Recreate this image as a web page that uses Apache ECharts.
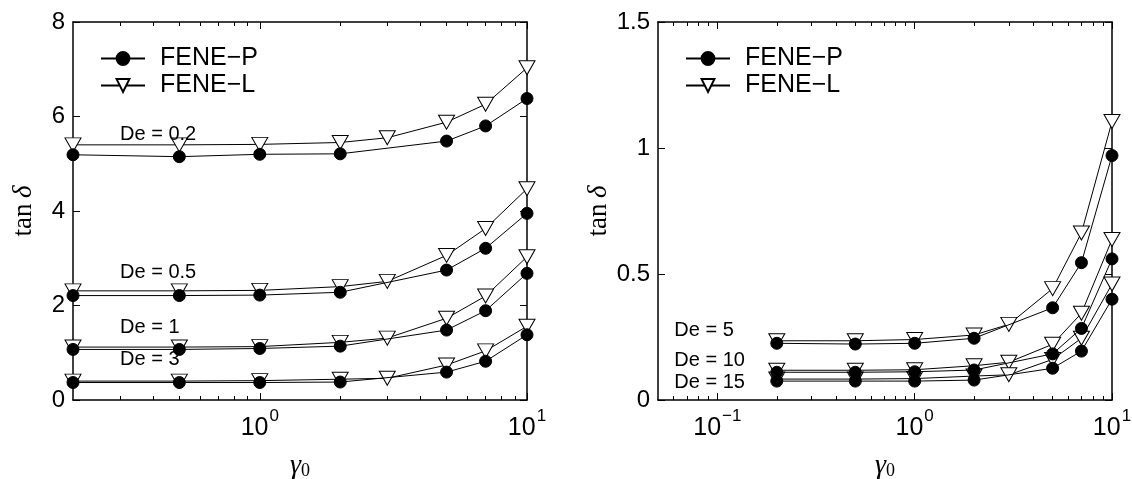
<!DOCTYPE html>
<html>
<head>
<meta charset="utf-8">
<script src="https://cdn.jsdelivr.net/npm/echarts@6/dist/echarts.min.js"></script>
<style>
  html, body { margin: 0; padding: 0; background: #fff; }
  #chart { width: 1132px; height: 479px; }
</style>
</head>
<body>
<div id="chart"></div>
<script>
// Strain amplitudes γ0 sampled for each model
const gammaP = [0.2, 0.5, 1, 2, 5, 7, 10];
const gammaL = [0.2, 0.5, 1, 2, 3, 5, 7, 10];

// Left panel: loss tangent at low Deborah numbers
const deLeft = ['De = 0.2', 'De = 0.5', 'De = 1', 'De = 3'];
const feneP_left = [
  [5.19, 5.15, 5.20, 5.21, 5.48, 5.80, 6.38],
  [2.21, 2.21, 2.22, 2.28, 2.75, 3.21, 3.95],
  [1.07, 1.07, 1.09, 1.14, 1.48, 1.89, 2.68],
  [0.37, 0.37, 0.37, 0.38, 0.59, 0.82, 1.38]
];
const feneL_left = [
  [5.40, 5.40, 5.41, 5.45, 5.55, 5.88, 6.26, 7.03],
  [2.31, 2.31, 2.32, 2.40, 2.51, 3.06, 3.63, 4.47],
  [1.12, 1.12, 1.13, 1.22, 1.31, 1.73, 2.20, 3.03],
  [0.40, 0.40, 0.41, 0.44, 0.46, 0.74, 1.04, 1.56]
];

// Right panel: loss tangent at high Deborah numbers
const deRight = ['De = 5', 'De = 10', 'De = 15'];
const feneP_right = [
  [0.225, 0.222, 0.225, 0.245, 0.366, 0.545, 0.970],
  [0.110, 0.110, 0.112, 0.119, 0.183, 0.284, 0.560],
  [0.075, 0.075, 0.075, 0.079, 0.126, 0.194, 0.400]
];
const feneL_right = [
  [0.235, 0.235, 0.240, 0.258, 0.300, 0.442, 0.663, 1.105],
  [0.118, 0.118, 0.120, 0.136, 0.150, 0.221, 0.344, 0.637],
  [0.083, 0.083, 0.085, 0.095, 0.100, 0.161, 0.245, 0.460]
];

// Axis ranges and ticks
const xRangeLeft = [0.2, 10];
const xRangeRight = [0.05, 10];
const xMajorLeft = [1, 10];
const xMinorLeft = [0.3, 0.4, 0.5, 0.6, 0.7, 0.8, 0.9, 2, 3, 4, 5, 6, 7, 8, 9];
const xMajorRight = [0.1, 1, 10];
const xMinorRight = [0.06, 0.07, 0.08, 0.09, 0.2, 0.3, 0.4, 0.5, 0.6, 0.7, 0.8, 0.9, 2, 3, 4, 5, 6, 7, 8, 9];
const yLeft = { min: 0, max: 8, interval: 2 };
const yRight = { min: 0, max: 1.5, interval: 0.5 };

// Where the Deborah-number notes sit, in data units
const deLeftAt = [[0.30, 5.62], [0.30, 2.70], [0.30, 1.53], [0.30, 0.85]];
const deRightAt = [[0.0605, 0.276], [0.0605, 0.155], [0.0605, 0.071]];

const SANS = 'Liberation Sans, Arial, sans-serif';
const SERIF = 'Liberation Serif, Times New Roman, serif';
const INK = '#000';

const grids = [
  { left: 73, top: 22, width: 454, height: 378, containLabel: false, outerBoundsMode: 'none' },
  { left: 658, top: 22, width: 454, height: 378, containLabel: false, outerBoundsMode: 'none' }
];

// Decade tick label: "10" with a raised exponent
function decadeLabel(v) {
  const e = Math.round(Math.log10(v));
  return '{b|10}{sup|' + (e < 0 ? '\u2212' + (-e) : e) + '}';
}

function xAxes(gridIndex, range, major, minor) {
  const base = {
    type: 'log', logBase: 10, gridIndex: gridIndex, min: range[0], max: range[1],
    splitLine: { show: false }, minorTick: { show: false }, minorSplitLine: { show: false }
  };
  return [
    Object.assign({}, base, {
      position: 'bottom',
      name: '{g|\u03b3}{s|0}', nameLocation: 'middle', nameGap: 52,
      nameTextStyle: {
        rich: {
          g: { fontFamily: SERIF, fontStyle: 'italic', fontSize: 28, lineHeight: 28, color: INK, verticalAlign: 'bottom' },
          s: { fontFamily: SERIF, fontSize: 18, lineHeight: 18, color: INK, verticalAlign: 'bottom' }
        }
      },
      axisLine: { show: true, lineStyle: { color: INK, width: 1.5 } },
      axisTick: { show: true, inside: true, length: 7, customValues: major, lineStyle: { color: INK, width: 1 } },
      axisLabel: {
        show: true, customValues: major, margin: 8, formatter: decadeLabel,
        rich: {
          b: { fontFamily: SANS, fontSize: 25, lineHeight: 25, color: INK, verticalAlign: 'bottom' },
          sup: { fontFamily: SANS, fontSize: 17, color: INK, verticalAlign: 'top', padding: [0, 0, 16, 1] }
        }
      }
    }),
    Object.assign({}, base, {
      position: 'bottom',
      axisLine: { show: false },
      axisTick: { show: true, inside: true, length: 4, customValues: minor, lineStyle: { color: INK, width: 1 } },
      axisLabel: { show: false }
    }),
    Object.assign({}, base, {
      position: 'top',
      axisLine: { show: true, lineStyle: { color: INK, width: 1.5 } },
      axisTick: { show: true, inside: true, length: 7, customValues: major, lineStyle: { color: INK, width: 1 } },
      axisLabel: { show: false }
    }),
    Object.assign({}, base, {
      position: 'top',
      axisLine: { show: false },
      axisTick: { show: true, inside: true, length: 4, customValues: minor, lineStyle: { color: INK, width: 1 } },
      axisLabel: { show: false }
    })
  ];
}

function yAxes(gridIndex, spec) {
  const base = {
    type: 'value', gridIndex: gridIndex, min: spec.min, max: spec.max, interval: spec.interval,
    splitLine: { show: false },
    axisLine: { show: true, lineStyle: { color: INK, width: 1.5 } },
    axisTick: { show: true, inside: true, length: 7, lineStyle: { color: INK, width: 1 } }
  };
  return [
    Object.assign({}, base, {
      position: 'left',
      name: '{r|tan\u2009}{i|\u03b4}', nameLocation: 'middle', nameGap: 36, nameRotate: 90,
      nameTextStyle: {
        rich: {
          r: { fontFamily: SERIF, fontSize: 27, color: INK },
          i: { fontFamily: SERIF, fontStyle: 'italic', fontSize: 27, color: INK }
        }
      },
      axisLabel: { show: true, margin: 8, fontFamily: SANS, fontSize: 24, color: INK }
    }),
    Object.assign({}, base, {
      position: 'right',
      axisLabel: { show: false }
    })
  ];
}

function curve(name, xs, ys, isP, xi, yi) {
  return {
    type: 'line', name: name, xAxisIndex: xi, yAxisIndex: yi,
    data: xs.map((x, i) => [x, ys[i]]),
    clip: false,
    symbol: isP ? 'circle' : 'triangle',
    symbolSize: isP ? 12 : [16, 14],
    symbolRotate: isP ? 0 : 180,
    showAllSymbol: true,
    lineStyle: { color: INK, width: 1 },
    itemStyle: { color: isP ? INK : '#fff', borderColor: INK, borderWidth: 1 },
    emphasis: { disabled: true },
    z: isP ? 3 : 2
  };
}

function notes(texts, at, xi, yi) {
  return {
    type: 'scatter', xAxisIndex: xi, yAxisIndex: yi,
    symbolSize: 0, silent: true, z: 5,
    itemStyle: { opacity: 1 },
    data: texts.map((t, i) => [at[i][0], at[i][1], t]),
    label: {
      show: true, position: [0, 0], align: 'left', verticalAlign: 'middle',
      fontFamily: SANS, fontSize: 20, color: INK, opacity: 1, textBorderWidth: 0,
      formatter: p => p.value[2]
    }
  };
}

const series = [];
// FENE-L curves go down first so the filled circles sit on top
feneL_left.forEach(ys => series.push(curve('FENE\u2212L', gammaL, ys, false, 0, 0)));
feneP_left.forEach(ys => series.push(curve('FENE\u2212P', gammaP, ys, true, 0, 0)));
feneL_right.forEach(ys => series.push(curve('FENE\u2212L', gammaL, ys, false, 4, 2)));
feneP_right.forEach(ys => series.push(curve('FENE\u2212P', gammaP, ys, true, 4, 2)));
series.push(notes(deLeft, deLeftAt, 0, 0));
series.push(notes(deRight, deRightAt, 4, 2));

function legendAt(left) {
  return {
    orient: 'vertical', left: left, top: 40,
    data: ['FENE\u2212P', 'FENE\u2212L'],
    itemWidth: 44, itemHeight: 16, itemGap: 0,
    selectedMode: false,
    textStyle: { fontFamily: SANS, fontSize: 25, color: INK, lineHeight: 27, padding: [0, 0, 0, 10] }
  };
}

const chart = echarts.init(document.getElementById('chart'), null, { renderer: 'canvas' });
chart.setOption({
  animation: false,
  backgroundColor: '#fff',
  grid: grids,
  legend: [legendAt(95), legendAt(680)],
  xAxis: xAxes(0, xRangeLeft, xMajorLeft, xMinorLeft).concat(xAxes(1, xRangeRight, xMajorRight, xMinorRight)),
  yAxis: yAxes(0, yLeft).concat(yAxes(1, yRight)),
  series: series
});
</script>
</body>
</html>
